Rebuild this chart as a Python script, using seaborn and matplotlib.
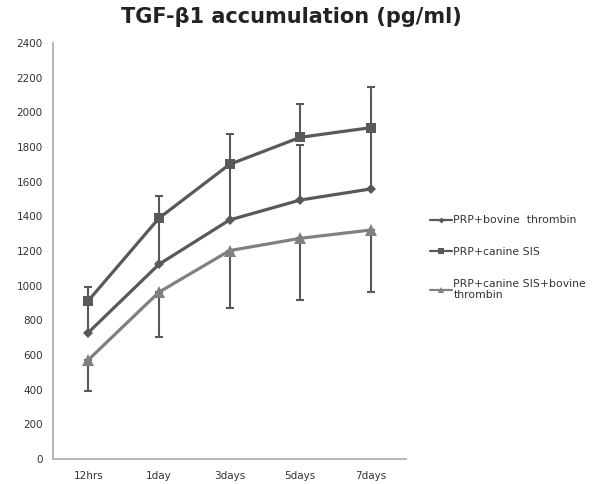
import numpy as np
import pandas as pd
import matplotlib
matplotlib.use("Agg")
import matplotlib.pyplot as plt
import seaborn as sns

times = ["12hrs", "1day", "3days", "5days", "7days"]
bovine = [729, 1123, 1379, 1494, 1558]
bovine_err = [170, 260, 310, 320, 340]
canine = [913, 1389, 1700, 1856, 1912]
canine_err = [80, 130, 173, 194, 233]
combo = [571, 962, 1202, 1273, 1321]
combo_err = [179, 256, 329, 354, 359]

labels = ["PRP+bovine  thrombin", "PRP+canine SIS", "PRP+canine SIS+bovine\nthrombin"]

sns.set_style("white")
plt.rcParams['font.family'] = ['DejaVu Sans']

df = pd.DataFrame({
    "pos": list(range(len(times))) * 3,
    "value": bovine + canine + combo,
    "group": [labels[0]] * 5 + [labels[1]] * 5 + [labels[2]] * 5,
})

fig = plt.figure(figsize=(6.09, 4.84), dpi=100)
ax = fig.add_axes([0.087, 0.052, 0.58, 0.859])

x = np.arange(len(times))
dark = "#595959"
light = "#808080"

# error bars first so markers sit on top
ax.errorbar(x, canine, yerr=[np.zeros(5), canine_err], fmt="none", ecolor=dark,
            elinewidth=1.5, capsize=3, capthick=1.5, zorder=1)
ax.errorbar(x, bovine, yerr=[np.zeros(5), bovine_err], fmt="none", ecolor=dark,
            elinewidth=1.5, capsize=3, capthick=1.5, zorder=1)
ax.errorbar(x, combo, yerr=[combo_err, np.zeros(5)], fmt="none", ecolor=dark,
            elinewidth=1.5, capsize=3, capthick=1.5, zorder=1)

sns.lineplot(data=df, x="pos", y="value", hue="group", style="group",
             palette=[dark, dark, light], markers=["D", "s", "^"], dashes=False,
             markersize=7, linewidth=2.3, markeredgewidth=0, ax=ax, zorder=2)
for line in ax.get_lines():
    if line.get_marker() == "D":
        line.set_markersize(5.5)
    elif line.get_marker() == "s":
        line.set_markersize(7.5)
    elif line.get_marker() == "^":
        line.set_markersize(8.5)

ax.set_xlim(-0.5, 4.5)
ax.set_ylim(0, 2400)
ax.set_yticks(range(0, 2401, 200))
ax.set_xticks(np.arange(-0.5, 4.6, 1))
ax.set_xticklabels([])
ax.set_xticks(x, minor=True)
ax.set_xticklabels(times, minor=True)
ax.tick_params(axis="x", which="minor", length=0, pad=9)
ax.tick_params(axis="x", which="major", length=4, color="#aaaaaa", direction="out")
ax.tick_params(axis="y", length=4, color="#aaaaaa", direction="out")
ax.tick_params(which="both", labelsize=7.5, labelcolor="#333333")
ax.set_xlabel("")
ax.set_ylabel("")
for side in ["top", "right"]:
    ax.spines[side].set_visible(False)
for side in ["left", "bottom"]:
    ax.spines[side].set_color("#aaaaaa")
    ax.spines[side].set_linewidth(1.2)

handles, _ = ax.get_legend_handles_labels()
leg = ax.legend(handles[-3:], labels, loc="upper left", bbox_to_anchor=(0.69, 0.575),
                bbox_transform=fig.transFigure, frameon=False, fontsize=7.8,
                handlelength=2.0, handletextpad=0.15, labelspacing=2.0,
                labelcolor="#333333")
for h in leg.legend_handles:
    h.set_linewidth(1.6)
    h.set_markersize(4 if h.get_marker() != "D" else 3)

fig.suptitle("TGF-β1 accumulation (pg/ml)", x=0.478, y=0.985, fontsize=15,
             fontweight="bold", color="#222222")

fig.savefig("out.png", dpi=100)
